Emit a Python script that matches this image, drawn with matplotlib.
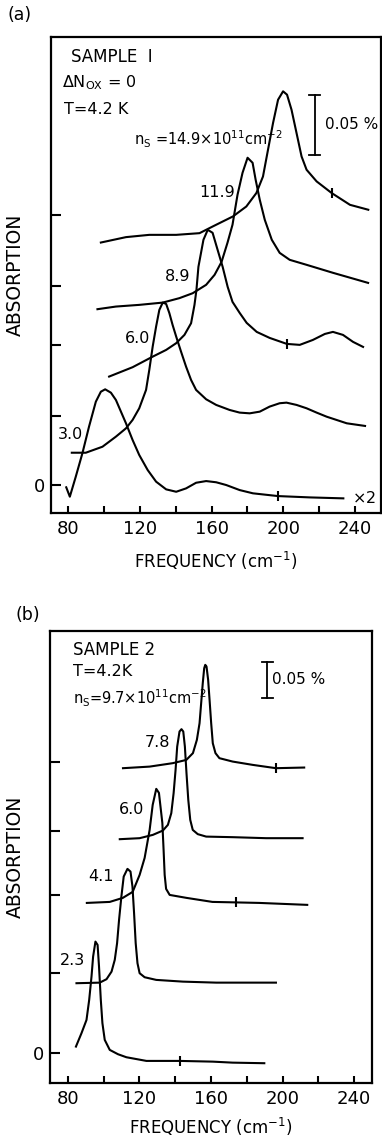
import numpy as np
import matplotlib.pyplot as plt

plt.rcParams['font.family'] = 'DejaVu Sans'
plt.rcParams['mathtext.fontset'] = 'dejavusans'

# ---- panel (a): sample 1, absorption (%) with curves offset vertically
a_f30 = [79, 81.0, 84.3, 88.0, 91.7, 95.5, 98.3, 100.7, 103.9, 106.7, 109.5, 112.3, 116.0, 119.7, 124.4, 129.1,
         134.7, 140.3, 145.8, 151.4, 157.0, 162.6, 168.2, 175.7, 183.1, 197.1, 214.8, 233.5]
a_y30 = [-0.0019, -0.0097, 0.0069, 0.0264, 0.0486, 0.0694, 0.0777, 0.0797, 0.0769, 0.0708, 0.0611, 0.0514, 0.0375,
         0.025, 0.0125, 0.0028, -0.0036, -0.0056, -0.0028, 0.0019, 0.0033, 0.0023, 0.0, -0.0042, -0.0069, -0.0092,
         -0.0103, -0.0111]

a_f60 = [82.1, 89.9, 99.2, 106.7, 112.3, 116.0, 119.7, 123.5, 125.3, 127.2, 129.1, 130.9, 132.8, 134.7, 136.5, 138.3,
         140.3, 143.0, 145.8, 148.6, 151.4, 157.0, 162.6, 170.1, 175.7, 181.3, 186.9, 192.4, 198.0, 201.8, 207.4,
         213.0, 218.6, 224.2, 235.4, 245.6]
a_y60 = [0.0269, 0.0269, 0.0319, 0.0403, 0.0472, 0.0542, 0.0639, 0.0792, 0.0958, 0.1153, 0.1319, 0.1458, 0.1519,
         0.1508, 0.1431, 0.1333, 0.1236, 0.1111, 0.0986, 0.0875, 0.0792, 0.0714, 0.0667, 0.0625, 0.0603, 0.0597,
         0.0611, 0.0653, 0.0681, 0.0686, 0.0667, 0.0639, 0.0603, 0.0569, 0.0514, 0.0492]

a_f89 = [102.9, 116.0, 127.2, 134.7, 140.3, 144.9, 148.6, 150.5, 151.6, 152.7, 155.5, 157.9, 160.6, 163.4, 166.2,
         169.0, 171.7, 175.7, 179.6, 185.2, 192.4, 202.0, 209.2, 216.5, 223.2, 227.7, 233.3, 238.9, 244.5]
a_y89 = [0.0903, 0.0981, 0.1069, 0.1125, 0.1181, 0.125, 0.1347, 0.15, 0.1625, 0.1817, 0.2042, 0.2125, 0.21, 0.1958,
         0.1817, 0.165, 0.1525, 0.1433, 0.135, 0.1275, 0.1225, 0.1175, 0.1167, 0.1208, 0.1258, 0.1275, 0.125,
         0.1192, 0.115]

a_f119 = [96.4, 106.7, 119.7, 132.8, 142.1, 149.5, 157.0, 161.7, 165.6, 168.9, 171.7, 174.5, 177.3, 180.1, 182.9,
          184.6, 186.9, 189.7, 193.6, 198.0, 203.6, 213.1, 227.7, 247.3]
a_y119 = [0.1464, 0.1486, 0.15, 0.1519, 0.1556, 0.1597, 0.1667, 0.175, 0.1858, 0.2017, 0.2167, 0.2417, 0.26, 0.2725,
          0.2683, 0.2542, 0.2375, 0.2208, 0.2042, 0.1933, 0.1875, 0.1833, 0.1767, 0.1683]

a_f149 = [98.3, 112.3, 125.3, 140.3, 153.3, 160.7, 171.9, 179.4, 185.0, 188.7, 191.5, 194.3, 197.1, 199.9, 202.1,
          204.6, 207.4, 210.2, 213.0, 218.6, 227.0, 237.2, 247.4]
a_y149 = [0.2019, 0.2064, 0.2083, 0.2083, 0.2097, 0.2153, 0.2236, 0.2319, 0.2431, 0.2569, 0.2792, 0.3014, 0.3208,
          0.3278, 0.325, 0.3125, 0.2931, 0.2736, 0.2625, 0.2528, 0.2431, 0.2333, 0.2292]

a_marks = {'3.0': 197.1, '8.9': 202.0, '14.9': 227.0}
a_yticks = [0, 0.0575, 0.1167, 0.166, 0.225]

# ---- panel (b): sample 2
b_f23 = [84.5, 87.6, 90.4, 91.9, 93.2, 94.1, 95.4, 96.6, 97.4, 98.4, 99.3, 100.6, 103.4, 108.0, 112.7, 123.9, 142.4,
         161.0, 172.1, 189.8]
b_y23 = [0.0088, 0.0274, 0.0458, 0.0736, 0.106, 0.1338, 0.1546, 0.15, 0.1199, 0.0736, 0.0413, 0.0181, 0.0042,
         -0.0018, -0.006, -0.0111, -0.0111, -0.0121, -0.0135, -0.0143]

b_f41 = [84.8, 97.8, 101.6, 104.4, 106.2, 107.5, 108.6, 109.9, 111.2, 113.3, 115.0, 116.1, 117.0, 117.9, 118.9, 120.1,
         122.9, 129.4, 144.3, 162.9, 183.3, 196.3]
b_y41 = [0.0968, 0.0976, 0.1024, 0.1129, 0.1292, 0.1524, 0.1847, 0.2171, 0.2449, 0.2556, 0.2518, 0.231, 0.194,
         0.1524, 0.1246, 0.1107, 0.1051, 0.1014, 0.099, 0.0976, 0.0976, 0.0976]

b_f60 = [90.6, 103.4, 110.7, 116.2, 120.1, 122.9, 125.7, 127.4, 129.4, 130.9, 132.8, 133.5, 134.1, 134.9, 136.9, 146.3,
         160.8, 174.2, 187.0, 213.8]
b_y60 = [0.2083, 0.2097, 0.2153, 0.2236, 0.2472, 0.2708, 0.3097, 0.3444, 0.3667, 0.3611, 0.3194, 0.2819, 0.2472,
         0.2278, 0.2194, 0.2153, 0.2097, 0.209, 0.2083, 0.2056]

b_f78 = [109.0, 120.1, 127.5, 133.1, 135.9, 137.8, 139.1, 140.2, 141.1, 142.4, 143.5, 144.5, 145.4, 146.3, 147.3, 148.4,
         149.8, 152.6, 157.3, 172.1, 190.8, 211.2]
b_y78 = [0.2968, 0.2982, 0.3028, 0.3088, 0.3167, 0.3329, 0.3607, 0.3931, 0.4254, 0.4463, 0.4496, 0.4463, 0.4254,
         0.3885, 0.3514, 0.3236, 0.3097, 0.3038, 0.3004, 0.2996, 0.2982, 0.2982]

b_f97 = [110.8, 125.7, 138.7, 146.2, 149.9, 152.1, 153.6, 154.5, 155.4, 156.2, 156.8, 157.5, 158.4, 159.2, 160.1, 161.0,
         162.5, 164.7, 172.1, 183.3, 196.3, 212.1]
b_y97 = [0.3954, 0.3976, 0.4024, 0.4069, 0.4163, 0.4347, 0.4579, 0.4857, 0.5135, 0.5343, 0.5389, 0.5365, 0.5181,
         0.4903, 0.4579, 0.4301, 0.4163, 0.4093, 0.4046, 0.4, 0.3954, 0.3963]

b_marks = {'2.3': 142.4, '6.0': 174.2, '9.7': 196.3}
b_yticks = [0, 0.111, 0.219, 0.308, 0.404]

xticks = [80, 100, 120, 140, 160, 180, 200, 220, 240]
xticklabels = ['80', '', '120', '', '160', '', '200', '', '240']

fig = plt.figure(figsize=(3.82, 11.36), dpi=100)
axa = fig.add_axes([0.1335, 0.5484, 0.8639, 0.419])
axb = fig.add_axes([0.1309, 0.0467, 0.8429, 0.3979])

lw = 1.5
a_curves = {'3.0': (a_f30, a_y30), '6.0': (a_f60, a_y60), '8.9': (a_f89, a_y89),
            '11.9': (a_f119, a_y119), '14.9': (a_f149, a_y149)}
for k, (f, y) in a_curves.items():
    axa.plot(f, y, color='black', lw=lw, solid_joinstyle='round')
    if k in a_marks:
        axa.plot(a_marks[k], np.interp(a_marks[k], f, y), marker='|', ms=7, mew=1.5, color='black')

b_curves = {'2.3': (b_f23, b_y23), '4.1': (b_f41, b_y41), '6.0': (b_f60, b_y60),
            '7.8': (b_f78, b_y78), '9.7': (b_f97, b_y97)}
for k, (f, y) in b_curves.items():
    axb.plot(f, y, color='black', lw=lw, solid_joinstyle='round')
    if k in b_marks:
        axb.plot(b_marks[k], np.interp(b_marks[k], f, y), marker='|', ms=7, mew=1.5, color='black')

for ax, yt in ((axa, a_yticks), (axb, b_yticks)):
    ax.set_xticks(xticks)
    ax.set_xticklabels(xticklabels, fontsize=13)
    ax.set_yticks(yt)
    ax.set_yticklabels(['0'] + [''] * (len(yt) - 1), fontsize=13)
    ax.tick_params(axis='x', direction='in', length=5, width=1.5, pad=5)
    ax.tick_params(axis='y', direction='in', length=7, width=1.5, pad=4)
    for s in ax.spines.values():
        s.set_linewidth(1.6)
    ax.set_xlabel(r'FREQUENCY (cm$^{-1}$)', fontsize=12)
    ax.set_ylabel('ABSORPTION', fontsize=13.5)

axa.set_xlim(70.5, 254.5)
axa.set_ylim(-0.0233, 0.373)
axb.set_xlim(70, 250)
axb.set_ylim(-0.0417, 0.586)
axa.yaxis.set_label_coords(-0.079, 0.5)
axb.yaxis.set_label_coords(-0.078, 0.5)
axa.xaxis.set_label_coords(0.5, -0.078)
axb.xaxis.set_label_coords(0.5, -0.072)

# text, panel (a)
fs = 11.5
axa.text(81.7, 0.356, 'SAMPLE  I', fontsize=12, va='center')
axa.text(76.6, 0.335, r'$\Delta$N$_{\mathrm{OX}}$ = 0', fontsize=fs, va='center')
axa.text(77.8, 0.3125, 'T=4.2 K', fontsize=fs, va='center')
axa.text(199.5, 0.2875, r'n$_\mathrm{S}$ =14.9$\times$10$^{11}$cm$^{-2}$', fontsize=10.5, va='center', ha='right')
axa.plot([217.6, 217.6], [0.275, 0.325], color='black', lw=1.3)
axa.plot([214.5, 220.7], [0.275, 0.275], color='black', lw=1.3)
axa.plot([214.5, 220.7], [0.325, 0.325], color='black', lw=1.3)
axa.text(223.2, 0.300, '0.05 %', fontsize=11, va='center')
axa.text(163.4, 0.2433, '11.9', fontsize=fs, va='center', ha='center')
axa.text(141, 0.1733, '8.9', fontsize=fs, va='center', ha='center')
axa.text(118.6, 0.1217, '6.0', fontsize=fs, va='center', ha='center')
axa.text(81.1, 0.0417, '3.0', fontsize=fs, va='center', ha='center')
axa.text(238.3, -0.0108, r'$\times$2', fontsize=fs, va='center')

# text, panel (b)
axb.text(82.8, 0.560, 'SAMPLE 2', fontsize=12, va='center')
axb.text(82.8, 0.529, 'T=4.2K', fontsize=fs, va='center')
axb.text(82.8, 0.493, r'n$_\mathrm{S}$=9.7$\times$10$^{11}$cm$^{-2}$', fontsize=10.5, va='center')
axb.plot([191.5, 191.5], [0.493, 0.543], color='black', lw=1.3)
axb.plot([188.5, 194.5], [0.493, 0.493], color='black', lw=1.3)
axb.plot([188.5, 194.5], [0.543, 0.543], color='black', lw=1.3)
axb.text(194.3, 0.518, '0.05 %', fontsize=11, va='center')
axb.text(130.2, 0.4306, '7.8', fontsize=fs, va='center', ha='center')
axb.text(115.7, 0.3375, '6.0', fontsize=fs, va='center', ha='center')
axb.text(98.4, 0.2444, '4.1', fontsize=fs, va='center', ha='center')
axb.text(82.8, 0.129, '2.3', fontsize=fs, va='center', ha='center')

fig.text(0.052, 0.987, '(a)', fontsize=12.5, va='center', ha='center')
fig.text(0.072, 0.459, '(b)', fontsize=12.5, va='center', ha='center')

fig.savefig('out.png', dpi=100)
